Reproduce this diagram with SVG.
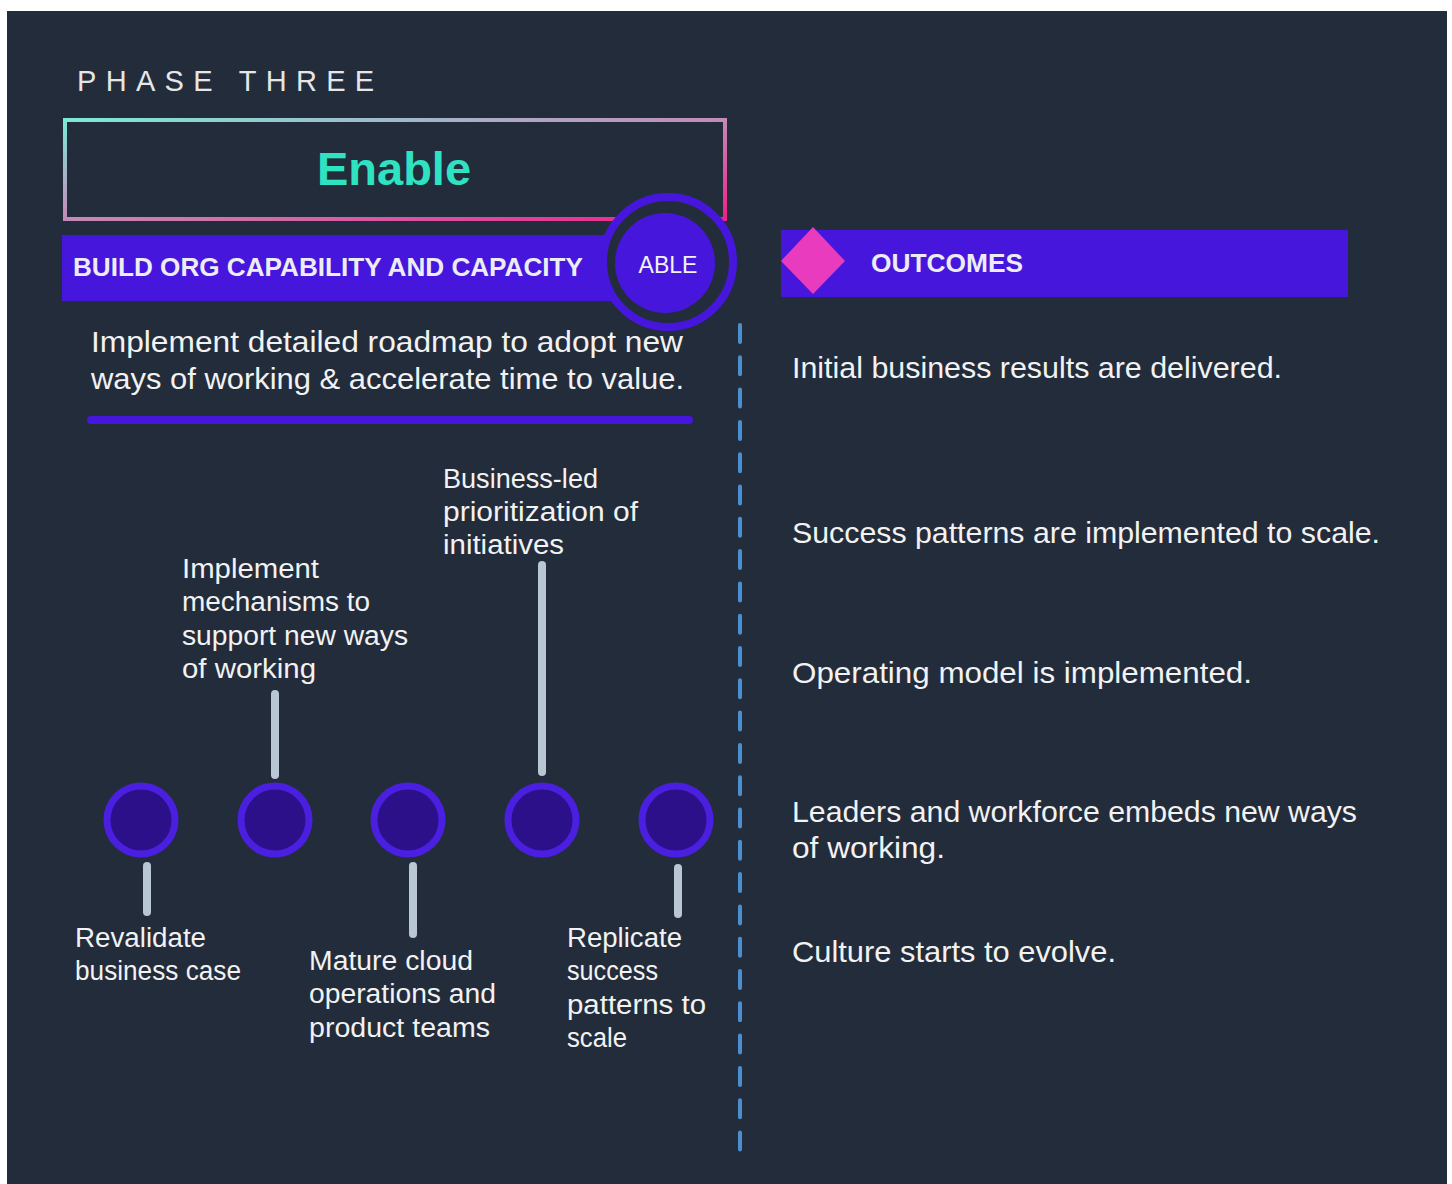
<svg xmlns="http://www.w3.org/2000/svg" width="1452" height="1184" viewBox="0 0 1452 1184">
<defs>
<linearGradient id="gb" x1="0" y1="0" x2="1" y2="1">
<stop offset="0" stop-color="#7de8d8"/>
<stop offset="0.5" stop-color="#c48ab8"/>
<stop offset="1" stop-color="#f0208a"/>
</linearGradient>
<style>
.t{font-family:"Liberation Sans",Arial,sans-serif;fill:#f2f2f2}
.body{font-size:30px}
.lab{font-size:27px}
.hdr{font-size:25px;font-weight:bold;fill:#ececf4}
.conn{stroke:#b9c6d4;stroke-width:8;stroke-linecap:round;fill:none}
.dot{fill:#2b1089;stroke:#4a1fe0;stroke-width:7}
</style>
</defs>
<rect x="0" y="0" width="1452" height="1184" fill="#ffffff"/>
<rect x="7" y="11" width="1440" height="1173" fill="#232c3b"/>

<g id="title">
<text class="t" x="77" y="91" font-size="29" letter-spacing="9.3" style="fill:#e6e6e6">PHASE THREE</text>
</g>

<g id="enable">
<rect x="65" y="120" width="660" height="99" fill="none" stroke="url(#gb)" stroke-width="4"/>
<text class="t" x="394" y="185" font-size="47" font-weight="bold" text-anchor="middle" style="fill:#2fe3c2">Enable</text>
</g>

<g id="build">
<rect x="62" y="235" width="560" height="66" fill="#4716dc"/>
<text class="t hdr" x="73" y="276" textLength="510" lengthAdjust="spacingAndGlyphs">BUILD ORG CAPABILITY AND CAPACITY</text>
</g>

<g id="able">
<circle cx="668" cy="262" r="65" fill="#232c3b" stroke="#4716dc" stroke-width="8"/>
<circle cx="665" cy="263" r="50" fill="#4716dc"/>
<text class="t" x="668" y="273" font-size="23" text-anchor="middle">ABLE</text>
</g>

<g id="description">
<text class="t body" x="91" y="352" textLength="592" lengthAdjust="spacingAndGlyphs">Implement detailed roadmap to adopt new</text>
<text class="t body" x="91" y="389" textLength="593" lengthAdjust="spacingAndGlyphs">ways of working &amp; accelerate time to value.</text>
<line x1="91" y1="420" x2="689" y2="420" stroke="#4716dc" stroke-width="8" stroke-linecap="round"/>
</g>

<g id="divider">
<line x1="740" y1="325" x2="740" y2="1151" stroke="#4b8fd1" stroke-width="4" stroke-linecap="round" stroke-dasharray="17 15.3"/>
</g>

<g id="outcomes">
<rect x="781" y="230" width="567" height="67" fill="#4716dc"/>
<polygon points="813,227 845,261 813,294 781,261" fill="#e93bbd"/>
<text class="t hdr" x="871" y="272" style="font-size:26px" textLength="152" lengthAdjust="spacingAndGlyphs">OUTCOMES</text>
</g>

<g id="outcome-list">
<text class="t body" x="792" y="378" textLength="490" lengthAdjust="spacingAndGlyphs">Initial business results are delivered.</text>
<text class="t body" x="792" y="543" textLength="588" lengthAdjust="spacingAndGlyphs">Success patterns are implemented to scale.</text>
<text class="t body" x="792" y="683" textLength="460" lengthAdjust="spacingAndGlyphs">Operating model is implemented.</text>
<text class="t body" x="792" y="822" textLength="565" lengthAdjust="spacingAndGlyphs">Leaders and workforce embeds new ways</text>
<text class="t body" x="792" y="858" textLength="153" lengthAdjust="spacingAndGlyphs">of working.</text>
<text class="t body" x="792" y="962" textLength="324" lengthAdjust="spacingAndGlyphs">Culture starts to evolve.</text>
</g>

<g id="connectors">
<line class="conn" x1="147" y1="866" x2="147" y2="912"/>
<line class="conn" x1="275" y1="694" x2="275" y2="775"/>
<line class="conn" x1="413" y1="866" x2="413" y2="934"/>
<line class="conn" x1="542" y1="565" x2="542" y2="772"/>
<line class="conn" x1="678" y1="868" x2="678" y2="914"/>
</g>

<g id="step1">
<circle class="dot" cx="141" cy="820" r="34"/>
<text class="t lab" x="75" y="947" textLength="131" lengthAdjust="spacingAndGlyphs">Revalidate</text>
<text class="t lab" x="75" y="980" textLength="166" lengthAdjust="spacingAndGlyphs">business case</text>
</g>
<g id="step2">
<circle class="dot" cx="275" cy="820" r="34"/>
<text class="t lab" x="182" y="578" textLength="137" lengthAdjust="spacingAndGlyphs">Implement</text>
<text class="t lab" x="182" y="611" textLength="188" lengthAdjust="spacingAndGlyphs">mechanisms to</text>
<text class="t lab" x="182" y="645" textLength="226" lengthAdjust="spacingAndGlyphs">support new ways</text>
<text class="t lab" x="182" y="678" textLength="134" lengthAdjust="spacingAndGlyphs">of working</text>
</g>
<g id="step3">
<circle class="dot" cx="408" cy="820" r="34"/>
<text class="t lab" x="309" y="970" textLength="164" lengthAdjust="spacingAndGlyphs">Mature cloud</text>
<text class="t lab" x="309" y="1003" textLength="187" lengthAdjust="spacingAndGlyphs">operations and</text>
<text class="t lab" x="309" y="1037" textLength="181" lengthAdjust="spacingAndGlyphs">product teams</text>
</g>
<g id="step4">
<circle class="dot" cx="542" cy="820" r="34"/>
<text class="t lab" x="443" y="488" textLength="155" lengthAdjust="spacingAndGlyphs">Business-led</text>
<text class="t lab" x="443" y="521" textLength="195" lengthAdjust="spacingAndGlyphs">prioritization of</text>
<text class="t lab" x="443" y="554" textLength="121" lengthAdjust="spacingAndGlyphs">initiatives</text>
</g>
<g id="step5">
<circle class="dot" cx="676" cy="820" r="34"/>
<text class="t lab" x="567" y="947" textLength="115" lengthAdjust="spacingAndGlyphs">Replicate</text>
<text class="t lab" x="567" y="980" textLength="91" lengthAdjust="spacingAndGlyphs">success</text>
<text class="t lab" x="567" y="1014" textLength="139" lengthAdjust="spacingAndGlyphs">patterns to</text>
<text class="t lab" x="567" y="1047" textLength="60" lengthAdjust="spacingAndGlyphs">scale</text>
</g>
</svg>
